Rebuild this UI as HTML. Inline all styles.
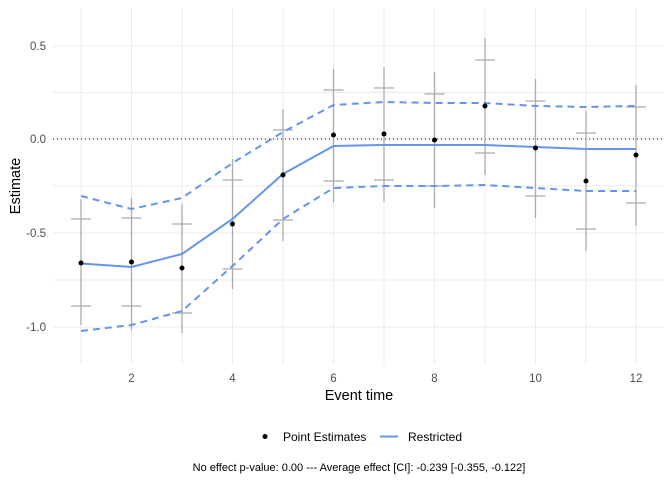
<!DOCTYPE html>
<html><head><meta charset="utf-8"><style>
body{margin:0;background:#fff;}
svg text{font-family:"Liberation Sans",Arial,sans-serif;}
</style></head><body>
<svg width="672" height="480" viewBox="0 0 672 480" xmlns="http://www.w3.org/2000/svg">
<rect width="672" height="480" fill="#fff"/>
<g stroke="#ebebeb" stroke-width="1">
<line x1="53" x2="664" y1="46" y2="46"/><line x1="53" x2="664" y1="92.5" y2="92.5"/>
<line x1="53" x2="664" y1="139" y2="139"/><line x1="53" x2="664" y1="186" y2="186"/>
<line x1="53" x2="664" y1="233" y2="233"/><line x1="53" x2="664" y1="280" y2="280"/>
<line x1="53" x2="664" y1="327" y2="327"/>
<line x1="81" x2="81" y1="8" y2="364"/><line x1="131.5" x2="131.5" y1="8" y2="364"/>
<line x1="182" x2="182" y1="8" y2="364"/><line x1="232.5" x2="232.5" y1="8" y2="364"/>
<line x1="283" x2="283" y1="8" y2="364"/><line x1="333.5" x2="333.5" y1="8" y2="364"/>
<line x1="384" x2="384" y1="8" y2="364"/><line x1="434.5" x2="434.5" y1="8" y2="364"/>
<line x1="485" x2="485" y1="8" y2="364"/><line x1="535.5" x2="535.5" y1="8" y2="364"/>
<line x1="586" x2="586" y1="8" y2="364"/><line x1="636" x2="636" y1="8" y2="364"/>
</g>
<line x1="53" x2="664" y1="139" y2="139" stroke="#000" stroke-width="1" stroke-dasharray="1,3"/>
<g stroke="#aaaaaa" stroke-width="1.3">
<path d="M81 199V325M71 219H91M71 306H91"/>
<path d="M131.5 198V330M121.5 218H141.5M121.5 306H141.5"/>
<path d="M182 204V333M172 224H192M172 313H192"/>
<path d="M232.5 159V289M222.5 180H242.5M222.5 269H242.5"/>
<path d="M283 109V241M273 130H293M273 220H293"/>
<path d="M333.5 69V202M323.5 90H343.5M323.5 181H343.5"/>
<path d="M384 67V202M374 88H394M374 180H394"/>
<path d="M434.5 72V208M424.5 94H444.5M424.5 186H444.5"/>
<path d="M485 38V175M475 60H495M475 153H495"/>
<path d="M535.5 79V218M525.5 101H545.5M525.5 196H545.5"/>
<path d="M586 111V251M576 133H596M576 229H596"/>
<path d="M636 85V226M626 107H646M626 203H646"/>
</g>
<g fill="none" stroke="#6495ed" stroke-width="2">
<polyline points="81,263.5 131.5,267 182,254 232.5,219 283,174 333.5,146 384,145 434.5,145 485,145 535.5,147 586,149 636,149"/>
<g stroke-dasharray="7,5">
<polyline points="81,196 131.5,209 182,198 232.5,163 283,132 333.5,105 384,102 434.5,103 485,103 535.5,106 586,107 636,106"/>
<polyline points="81,331 131.5,325 182,311 232.5,266 283,219 333.5,188 384,186 434.5,186 485,185 535.5,188 586,191 636,191"/>
</g>
</g>
<g fill="#000">
<circle cx="81" cy="263" r="2.5"/><circle cx="131.5" cy="262" r="2.5"/><circle cx="182" cy="268" r="2.5"/>
<circle cx="232.5" cy="224" r="2.5"/><circle cx="283" cy="175" r="2.5"/><circle cx="333.5" cy="135" r="2.5"/>
<circle cx="384" cy="134" r="2.5"/><circle cx="434.5" cy="140" r="2.5"/><circle cx="485" cy="106" r="2.5"/>
<circle cx="535.5" cy="148" r="2.5"/><circle cx="586" cy="181" r="2.5"/><circle cx="636" cy="155" r="2.5"/>
</g>
<g font-size="11.5" fill="#4d4d4d" text-anchor="end">
<text x="46" y="50">0.5</text><text x="46" y="143">0.0</text>
<text x="46" y="237">-0.5</text><text x="46" y="331">-1.0</text>
</g>
<g font-size="11.5" fill="#4d4d4d" text-anchor="middle">
<text x="131.5" y="382">2</text><text x="232.5" y="382">4</text><text x="333.5" y="382">6</text>
<text x="434.5" y="382">8</text><text x="535.5" y="382">10</text><text x="636" y="382">12</text>
</g>
<text x="359" y="400" font-size="14.5" text-anchor="middle" fill="#000">Event time</text>
<text transform="translate(20,186) rotate(-90)" font-size="14.5" text-anchor="middle" fill="#000">Estimate</text>
<circle cx="265" cy="436.5" r="2.5" fill="#000"/>
<text x="283" y="441" font-size="12" fill="#000">Point Estimates</text>
<line x1="380" x2="398" y1="436.5" y2="436.5" stroke="#6495ed" stroke-width="2"/>
<text x="408" y="441" font-size="12" fill="#000">Restricted</text>
<text x="359" y="471" font-size="11" text-anchor="middle" fill="#000">No effect p-value: 0.00 --- Average effect [CI]: -0.239 [-0.355, -0.122]</text>
</svg>
</body></html>
